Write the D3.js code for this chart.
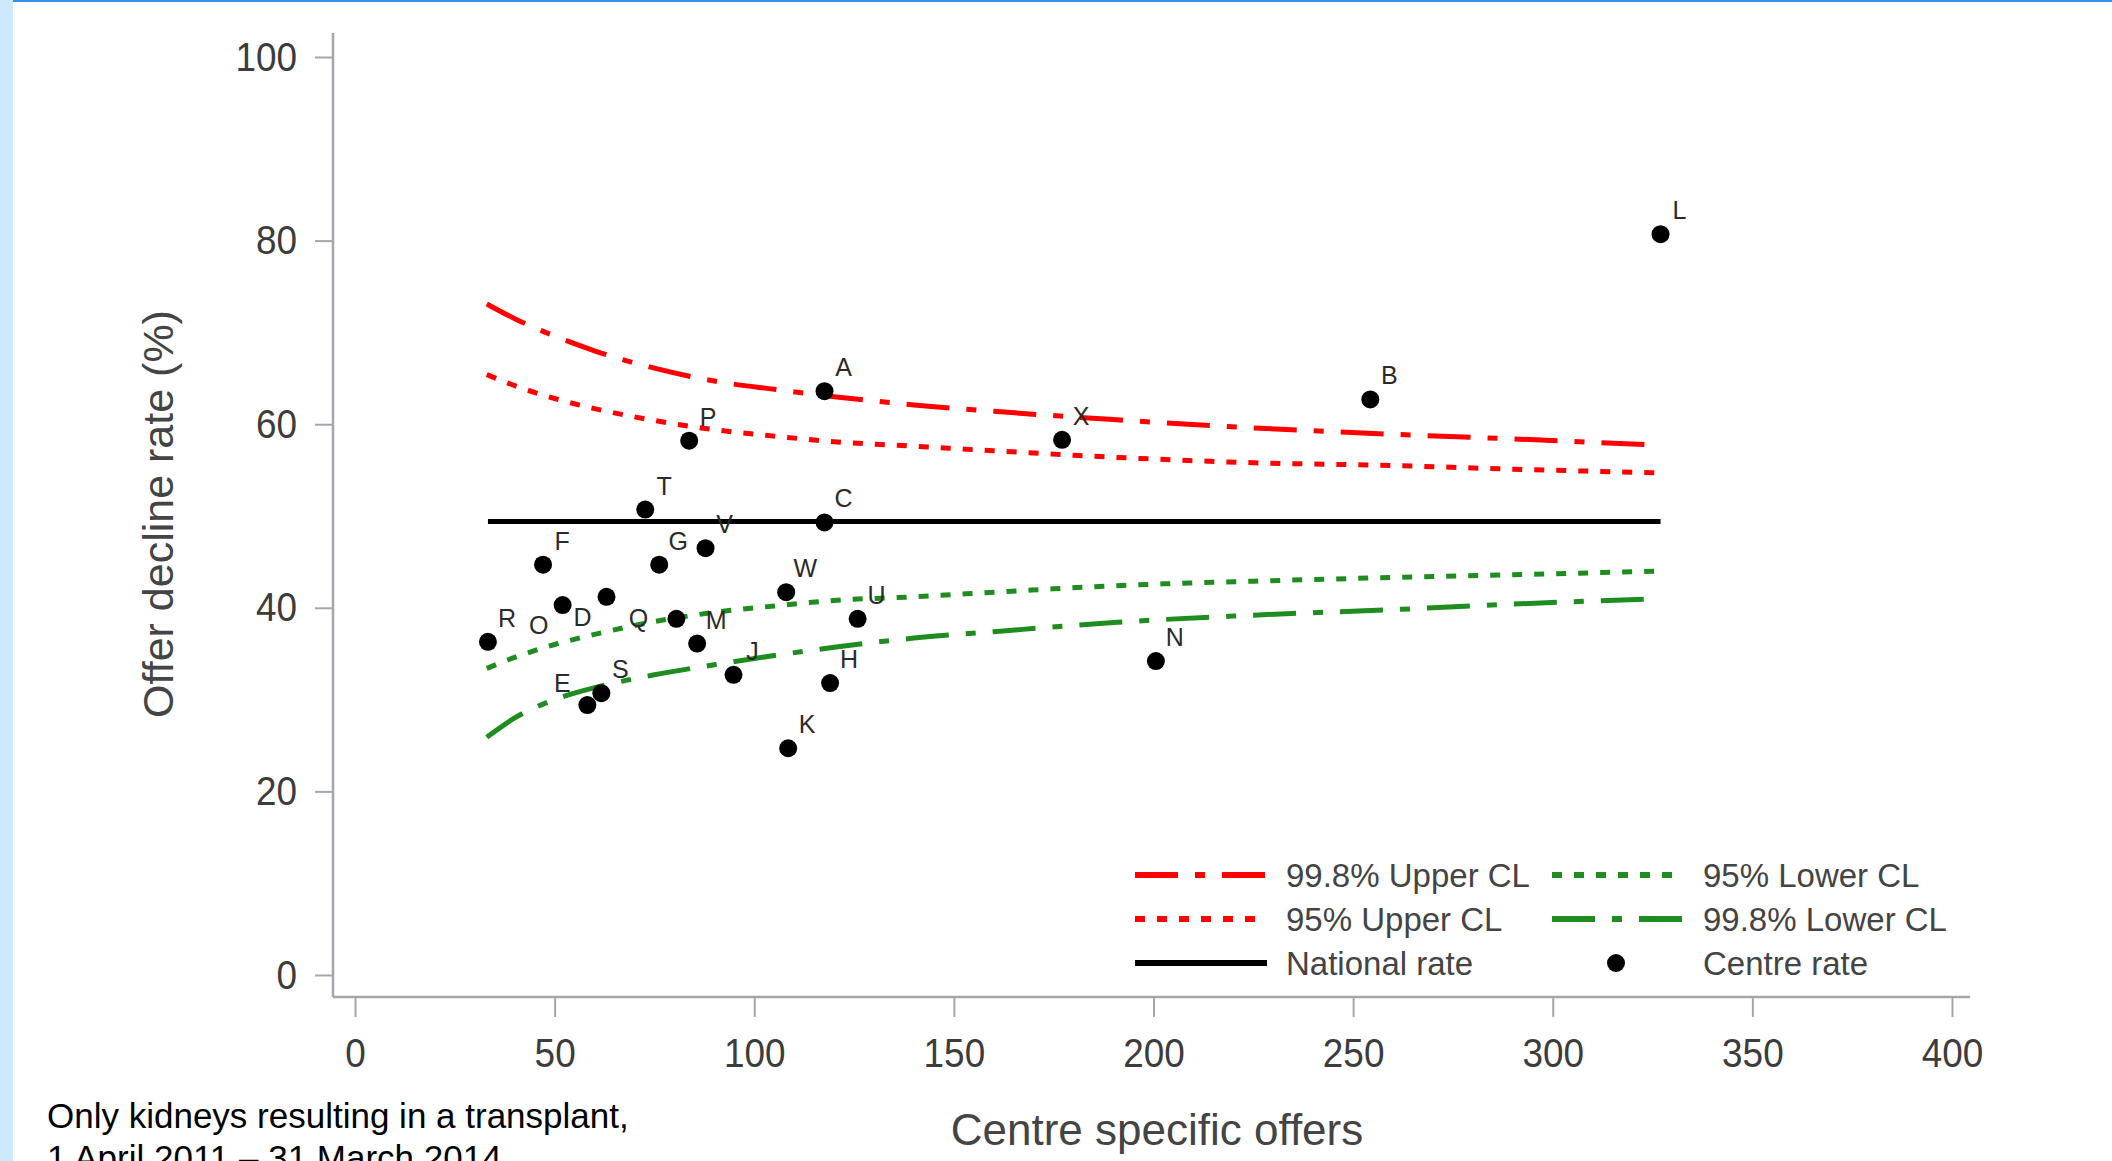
<!DOCTYPE html>
<html>
<head>
<meta charset="utf-8">
<script src="https://cdn.jsdelivr.net/npm/d3@7"></script>
<style>
  body { margin: 0; background: #fff; }
  svg { display: block; font-family: "Liberation Sans", Arial, sans-serif; }
</style>
</head>
<body>
<script>
// centre-level results
const centres      = ['A', 'B', 'C', 'D', 'E', 'F', 'G', 'H', 'J', 'K', 'L', 'M',
                      'N', 'O', 'P', 'Q', 'R', 'S', 'T', 'U', 'V', 'W', 'X'];
const centreOffers = [117.6, 254.3, 117.6, 63.0, 58.2, 47.1, 76.2, 119.0, 94.8, 108.5, 327.0, 85.7,
                      200.6, 52.0, 83.7, 80.5, 33.3, 61.7, 72.7, 125.9, 87.8, 108.0, 177.1];
const centreRates  = [63.6, 62.7, 49.3, 41.2, 29.4, 44.7, 44.7, 31.8, 32.7, 24.7, 80.7, 36.1,
                      34.2, 40.3, 58.2, 38.8, 36.3, 30.7, 50.7, 38.8, 46.5, 41.7, 58.3];

const nationalRate = 49.4;

// control limits sampled along the offers axis
const clOffers = [33, 40, 50, 60, 75, 90, 105, 120, 140, 160, 190, 225, 260, 290, 327];
const upper998 = [73.1, 71.5, 69.6, 68.0, 66.1, 64.7, 63.8, 63.0, 62.1, 61.4, 60.5, 59.6, 58.9, 58.4, 57.7];
const upper95  = [65.4, 64.2, 62.8, 61.7, 60.4, 59.4, 58.7, 58.1, 57.6, 57.1, 56.4, 55.8, 55.5, 55.1, 54.7];
const lower95  = [33.4, 34.6, 36.0, 37.1, 38.5, 39.5, 40.2, 40.8, 41.2, 41.7, 42.4, 42.9, 43.3, 43.6, 44.0];
const lower998 = [25.9, 28.0, 30.0, 31.3, 32.7, 33.8, 34.8, 35.7, 36.7, 37.4, 38.4, 39.2, 39.8, 40.4, 41.0];

const xTicks = [0, 50, 100, 150, 200, 250, 300, 350, 400];
const yTicks = [0, 20, 40, 60, 80, 100];

const WIDTH = 2112;
const HEIGHT = 1161;
const AXIS_X = 333;      // y axis line
const AXIS_Y = 997;      // x axis line
const AXIS_TOP = 33;
const AXIS_RIGHT = 1970;

const RED = '#ff0000';
const GREEN = '#1e8c1e';
const AXIS_GREY = '#a3a7ab';
const DASHDOT = '43,17,10,17';
const DOTTED = '10,12';

// non-default label spots (clock-ish), everything else sits up-right
const labelSpot = {O: 'sw', D: 'sw', Q: 'w', E: 'nw'};
const spotOffset = {
  ne: [19, -24], sw: [-24, 20], w: [-38, -1], nw: [-25, -22]
};

var translate = function(x, y) {
  return 'translate(' + x + ',' + y + ')';
};

var xScale = d3.scaleLinear().domain([0, 400]).range([355, 1952]);
var yScale = d3.scaleLinear().domain([0, 100]).range([975, 57]);

var clLine = d3.line()
  .x(function(d) { return xScale(d[0]); })
  .y(function(d) { return yScale(d[1]); })
  .curve(d3.curveMonotoneX);

var onload = function() {
  var svg = d3.select('body').append('svg')
    .attr('width', WIDTH)
    .attr('height', HEIGHT);

  svg.append('rect').attr('width', WIDTH).attr('height', HEIGHT).attr('fill', '#fff');
  // page frame bits visible in the screenshot
  svg.append('rect').attr('x', 0).attr('y', 0).attr('width', 13).attr('height', HEIGHT)
    .attr('fill', '#cde9fc');
  svg.append('rect').attr('x', 13).attr('y', 0).attr('width', WIDTH - 13).attr('height', 2)
    .attr('fill', '#3a8ee6');

  // x axis
  var gx = svg.append('g')
    .attr('transform', translate(0, AXIS_Y))
    .call(d3.axisBottom(xScale).tickValues(xTicks).tickSize(20).tickPadding(21));
  gx.select('.domain').remove();
  gx.append('line')
    .attr('x1', AXIS_X).attr('x2', AXIS_RIGHT)
    .attr('stroke', AXIS_GREY).attr('stroke-width', 2.5);

  // y axis
  var gy = svg.append('g')
    .attr('transform', translate(AXIS_X, 0))
    .call(d3.axisLeft(yScale).tickValues(yTicks).tickSize(18).tickPadding(18));
  gy.select('.domain').remove();
  gy.append('line')
    .attr('y1', AXIS_TOP).attr('y2', AXIS_Y)
    .attr('stroke', AXIS_GREY).attr('stroke-width', 2.5);

  [gx, gy].forEach(function(g) {
    g.selectAll('.tick line').attr('stroke', AXIS_GREY).attr('stroke-width', 2);
    g.selectAll('.tick text')
      .attr('fill', '#3c3c3c')
      .attr('font-size', 41)
      .attr('font-family', '"Liberation Sans", Arial, sans-serif')
      .attr('transform', 'scale(0.9,1)');
  });
  gy.selectAll('.tick text').attr('x', -40);

  // axis titles
  svg.append('text')
    .attr('transform', translate(173, 514) + ' rotate(-90)')
    .attr('text-anchor', 'middle')
    .attr('font-size', 43)
    .attr('fill', '#444')
    .text('Offer decline rate (%)');

  svg.append('text')
    .attr('x', 1157).attr('y', 1145)
    .attr('text-anchor', 'middle')
    .attr('font-size', 44)
    .attr('fill', '#444')
    .text('Centre specific offers');

  // footnote
  var note = svg.append('text')
    .attr('x', 47).attr('y', 1128)
    .attr('font-size', 35)
    .attr('fill', '#000');
  note.append('tspan').text('Only kidneys resulting in a transplant,');
  note.append('tspan').attr('x', 47).attr('dy', 42).text('1 April 2011 \u2013 31 March 2014');

  // control limits
  var limits = [
    {vals: upper998, color: RED, dash: DASHDOT},
    {vals: upper95, color: RED, dash: DOTTED},
    {vals: lower95, color: GREEN, dash: DOTTED},
    {vals: lower998, color: GREEN, dash: DASHDOT}
  ];
  svg.append('g').selectAll('path').data(limits)
    .enter()
    .append('path')
    .attr('d', function(d) { return clLine(d3.zip(clOffers, d.vals)); })
    .attr('fill', 'none')
    .attr('stroke', function(d) { return d.color; })
    .attr('stroke-width', 5)
    .attr('stroke-dasharray', function(d) { return d.dash; });

  // national rate
  var offerRange = d3.extent(centreOffers);
  svg.append('line')
    .attr('x1', xScale(offerRange[0])).attr('x2', xScale(offerRange[1]))
    .attr('y1', yScale(nationalRate)).attr('y2', yScale(nationalRate))
    .attr('stroke', '#000').attr('stroke-width', 5);

  // centres
  var pts = centres.map(function(c, i) {
    return {name: c, offers: centreOffers[i], rate: centreRates[i]};
  });

  svg.append('g').selectAll('circle').data(pts)
    .enter()
    .append('circle')
    .attr('cx', function(d) { return xScale(d.offers); })
    .attr('cy', function(d) { return yScale(d.rate); })
    .attr('r', 9)
    .attr('fill', '#000');

  svg.append('g').selectAll('text').data(pts)
    .enter()
    .append('text')
    .attr('x', function(d) { return xScale(d.offers) + spotOffset[labelSpot[d.name] || 'ne'][0]; })
    .attr('y', function(d) { return yScale(d.rate) + spotOffset[labelSpot[d.name] || 'ne'][1]; })
    .attr('dy', '0.36em')
    .attr('text-anchor', 'middle')
    .attr('font-size', 25)
    .attr('fill', '#2a2a2a')
    .text(function(d) { return d.name; });

  // legend
  var legendItems = [
    {label: '99.8% Upper CL', col: 0, row: 0, color: RED, dash: DASHDOT},
    {label: '95% Upper CL', col: 0, row: 1, color: RED, dash: DOTTED},
    {label: 'National rate', col: 0, row: 2, color: '#000', dash: null},
    {label: '95% Lower CL', col: 1, row: 0, color: GREEN, dash: DOTTED},
    {label: '99.8% Lower CL', col: 1, row: 1, color: GREEN, dash: DASHDOT},
    {label: 'Centre rate', col: 1, row: 2, color: '#000', dot: true}
  ];
  var colX = [1135, 1552];
  var textX = [1286, 1703];
  var rowY = [875, 919, 963];

  var lg = svg.append('g').selectAll('g').data(legendItems)
    .enter()
    .append('g')
    .attr('transform', function(d) { return translate(0, rowY[d.row]); });

  lg.filter(function(d) { return !d.dot; })
    .append('line')
    .attr('x1', function(d) { return colX[d.col]; })
    .attr('x2', function(d) { return colX[d.col] + 132; })
    .attr('stroke', function(d) { return d.color; })
    .attr('stroke-width', 6)
    .attr('stroke-dasharray', function(d) { return d.dash; });

  lg.filter(function(d) { return d.dot; })
    .append('circle')
    .attr('cx', function(d) { return colX[d.col] + 64; })
    .attr('r', 9)
    .attr('fill', '#000');

  lg.append('text')
    .attr('x', function(d) { return textX[d.col]; })
    .attr('dy', '0.36em')
    .attr('font-size', 33)
    .attr('fill', '#444')
    .text(function(d) { return d.label; });
};

window.onload = onload;
</script>
</body>
</html>
